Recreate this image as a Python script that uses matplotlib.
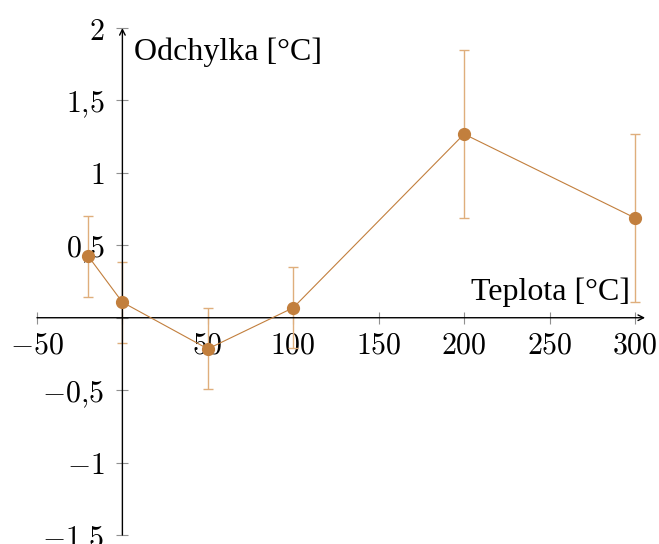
import matplotlib.pyplot as plt
from matplotlib.ticker import FixedLocator, FuncFormatter

plt.rcParams['mathtext.fontset'] = 'cm'

# measured deviations
teplota = [-20, 0, 50, 100, 200, 300]
odchylka = [0.425, 0.107, -0.215, 0.069, 1.268, 0.689]
chyba = [0.28, 0.28, 0.28, 0.28, 0.58, 0.58]

x_ticks = [-50, 0, 50, 100, 150, 200, 250, 300]
y_ticks = [-1.5, -1, -0.5, 0, 0.5, 1, 1.5, 2]

line_color = '#c27f3d'
err_color = '#dfae7c'

fig = plt.figure(figsize=(6.59, 5.44), dpi=100)
axis = fig.add_axes([0.0561, 0.0165, 0.9074, 0.932])

axis.errorbar(teplota, odchylka, yerr=chyba, fmt='none', ecolor=err_color,
              elinewidth=1.0, capsize=3.6, capthick=1.0, zorder=3, clip_on=False)
axis.plot(teplota, odchylka, color=line_color, linewidth=0.8, marker='o',
          markersize=8.5, zorder=4, clip_on=False)

axis.set_xlim(-50, 300)
axis.set_ylim(-1.5, 2)

for side in ['left', 'bottom']:
	axis.spines[side].set_position(('data', 0))
	axis.spines[side].set_color('none')
for side in ['right', 'top']:
	axis.spines[side].set_visible(False)

# axis lines with arrow heads
axis.annotate('', xy=(1.017, 0), xytext=(0, 0), xycoords=axis.get_yaxis_transform(),
              arrowprops=dict(arrowstyle='->', color='black', lw=1.0, shrinkA=0, shrinkB=0))
axis.annotate('', xy=(0, 1.0), xytext=(0, 0), xycoords=axis.get_xaxis_transform(),
              arrowprops=dict(arrowstyle='->', color='black', lw=1.0, shrinkA=0, shrinkB=0))


def fmt(v, pos):
	if v == 0:
		return ''
	s = ('%g' % v).replace('.', '{,}')
	return '$' + s + '$'


axis.xaxis.set_major_locator(FixedLocator(x_ticks))
axis.yaxis.set_major_locator(FixedLocator(y_ticks))
axis.xaxis.set_major_formatter(FuncFormatter(fmt))
axis.yaxis.set_major_formatter(FuncFormatter(fmt))
axis.tick_params(which='both', direction='inout', length=8, width=0.8, color='#909090',
                 labelsize=21.5, pad=5)
axis.tick_params(axis='y', pad=9)

axis.text(6.8, 1.83, 'Odchylka [°C]', family='Liberation Serif', fontsize=23,
          ha='left', va='center')
axis.text(297, 0.175, 'Teplota [°C]', family='Liberation Serif', fontsize=23,
          ha='right', va='center')

plt.savefig('out.png', dpi=100)
